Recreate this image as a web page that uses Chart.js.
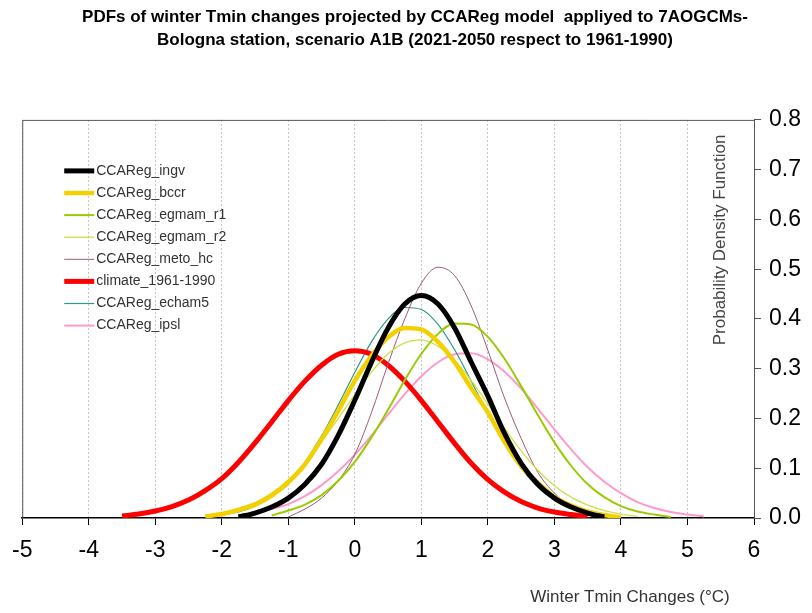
<!DOCTYPE html>
<html>
<head>
<meta charset="utf-8">
<script src="https://cdn.jsdelivr.net/npm/chart.js@4.4.1/dist/chart.umd.min.js"></script>
<style>
  html, body { margin: 0; padding: 0; background: #fff; }
  #wrap { width: 812px; height: 613px; }
</style>
</head>
<body>
<div id="wrap"><canvas id="chart" width="812" height="613"></canvas></div>
<script>
// ===== DATA =====
// temperature change grid, step 0.25 °C
const temps = [-3.5, -3.25, -3.0, -2.75, -2.5, -2.25, -2.0, -1.75, -1.5, -1.25,
  -1.0, -0.75, -0.5, -0.25, 0, 0.25, 0.5, 0.75, 1.0, 1.25,
  1.5, 1.75, 2.0, 2.25, 2.5, 2.75, 3.0, 3.25, 3.5, 3.75,
  4.0, 4.25, 4.5, 4.75, 5.0, 5.25];

const ingv = [null, null, null, null, null, null, null, 0.002, 0.010, 0.022,
  0.040, 0.068, 0.108, 0.166, 0.237, 0.313, 0.382, 0.430, 0.447, 0.430,
  0.382, 0.313, 0.245, 0.170, 0.110, 0.068, 0.040, 0.022, 0.010, 0.002,
  null, null, null, null, null, null];

const bccr = [null, null, null, null, null, 0.003, 0.008, 0.016, 0.027, 0.045,
  0.072, 0.108, 0.158, 0.215, 0.276, 0.326, 0.363, 0.382, 0.379, 0.354,
  0.313, 0.261, 0.212, 0.153, 0.104, 0.071, 0.042, 0.025, 0.013, 0.006,
  0.001, null, null, null, null, null];

const egmamR1 = [null, null, null, null, null, null, null, null, null, 0.005,
  0.015, 0.027, 0.046, 0.075, 0.113, 0.162, 0.218, 0.277, 0.330, 0.370,
  0.391, 0.389, 0.364, 0.320, 0.265, 0.207, 0.152, 0.105, 0.068, 0.042,
  0.024, 0.013, 0.007, 0.002, null, null];

const egmamR2 = [null, null, null, null, null, null, 0.003, 0.019, 0.031, 0.050,
  0.077, 0.111, 0.153, 0.200, 0.248, 0.293, 0.330, 0.352, 0.358, 0.345,
  0.317, 0.276, 0.229, 0.180, 0.135, 0.096, 0.065, 0.042, 0.026, 0.015,
  0.008, 0.003, null, null, null, null];

const metoHc = [null, null, null, null, null, null, null, null, null, null,
  0.002, 0.018, 0.040, 0.075, 0.128, 0.212, 0.310, 0.400, 0.472, 0.504,
  0.487, 0.426, 0.337, 0.241, 0.160, 0.092, 0.050, 0.023, 0.010, 0.003,
  null, null, null, null, null, null];

const climate = [0.004, 0.008, 0.014, 0.023, 0.036, 0.055, 0.079, 0.112, 0.151, 0.193,
  0.236, 0.275, 0.307, 0.329, 0.336, 0.329, 0.307, 0.275, 0.236, 0.193,
  0.150, 0.110, 0.077, 0.052, 0.033, 0.020, 0.012, 0.007, 0.003, null,
  null, null, null, null, null, null];

const echam5 = [null, null, null, null, null, null, 0.006, 0.012, 0.024, 0.043,
  0.068, 0.112, 0.165, 0.227, 0.293, 0.354, 0.400, 0.423, 0.419, 0.389,
  0.338, 0.275, 0.209, 0.149, 0.100, 0.062, 0.036, 0.020, 0.010, 0.003,
  null, null, null, null, null, null];

const ipsl = [null, null, null, null, null, null, null, 0.006, 0.010, 0.018,
  0.028, 0.044, 0.066, 0.094, 0.127, 0.166, 0.208, 0.249, 0.285, 0.313,
  0.329, 0.331, 0.319, 0.294, 0.260, 0.220, 0.178, 0.138, 0.102, 0.073,
  0.050, 0.032, 0.020, 0.012, 0.007, 0.003];

const xTicks = [-5, -4, -3, -2, -1, 0, 1, 2, 3, 4, 5, 6];
const yTicks = [0.0, 0.1, 0.2, 0.3, 0.4, 0.5, 0.6, 0.7, 0.8];

// ===== SERIES STYLE =====
const series = [
  { label: "CCAReg_ingv", data: ingv, color: "#000000", width: 5 },
  { label: "CCAReg_bccr", data: bccr, color: "#f5d000", width: 4.5 },
  { label: "CCAReg_egmam_r1", data: egmamR1, color: "#99cc00", width: 2 },
  { label: "CCAReg_egmam_r2", data: egmamR2, color: "#cce04a", width: 1.3 },
  { label: "CCAReg_meto_hc", data: metoHc, color: "#9a5a7a", width: 1 },
  { label: "climate_1961-1990", data: climate, color: "#ff0000", width: 5 },
  { label: "CCAReg_echam5", data: echam5, color: "#2a9a8a", width: 1.2 },
  { label: "CCAReg_ipsl", data: ipsl, color: "#ff99cc", width: 2 }
];

const FONT = "'Liberation Sans', Arial, sans-serif";

// legend + frame + axis titles drawn inside the plot
const extras = {
  id: "extras",
  beforeDatasetsDraw(chart) {
    const { ctx, chartArea: a } = chart;
    ctx.save();
    ctx.strokeStyle = "#555";
    ctx.lineWidth = 1;
    ctx.beginPath();
    ctx.moveTo(a.left + 0.5, a.bottom);
    ctx.lineTo(a.left + 0.5, a.top + 0.5);
    ctx.lineTo(a.right, a.top + 0.5);
    ctx.stroke();
    ctx.restore();
  },
  afterDatasetsDraw(chart) {
    const { ctx, chartArea: a } = chart;
    ctx.save();
    // legend
    ctx.font = "14px " + FONT;
    ctx.textBaseline = "middle";
    ctx.textAlign = "left";
    series.forEach((s, i) => {
      const y = a.top + 51 + i * 22.1;
      ctx.strokeStyle = s.color;
      ctx.lineWidth = s.width;
      ctx.beginPath();
      ctx.moveTo(a.left + 42, y);
      ctx.lineTo(a.left + 72, y);
      ctx.stroke();
      ctx.fillStyle = "#333";
      ctx.fillText(s.label, a.left + 74, y);
    });
    // y title (inside the plot)
    ctx.font = "17px " + FONT;
    ctx.fillStyle = "#444";
    ctx.textAlign = "center";
    ctx.translate(a.right - 34, a.top + 120);
    ctx.rotate(-Math.PI / 2);
    ctx.fillText("Probability Density Function", 0, 0);
    ctx.restore();

    // x title
    ctx.save();
    ctx.font = "17px " + FONT;
    ctx.fillStyle = "#333";
    ctx.textAlign = "center";
    ctx.textBaseline = "middle";
    ctx.fillText("Winter Tmin Changes (°C)", 630, 597);
    ctx.restore();
  }
};

const ctx = document.getElementById("chart").getContext("2d");

const chart = new Chart(ctx, {
  type: "line",
  data: {
    datasets: series.map(s => ({
      label: s.label,
      data: temps.map((t, i) => ({ x: t, y: s.data[i] })),
      borderColor: s.color,
      backgroundColor: s.color,
      borderWidth: s.width,
      pointRadius: 0,
      fill: false,
      cubicInterpolationMode: "monotone",
      spanGaps: false
    }))
  },
  options: {
    responsive: false,
    animation: false,
    layout: { padding: { left: 18, right: 0, top: 0, bottom: 0 } },
    plugins: {
      legend: { display: false },
      tooltip: { enabled: false },
      title: {
        display: true,
        text: [
          "PDFs of winter Tmin changes projected by CCAReg model  appliyed to 7AOGCMs-",
          "Bologna station, scenario A1B (2021-2050 respect to 1961-1990)"
        ],
        color: "#000",
        font: { family: "'Liberation Sans Narrow', " + FONT, size: 17, weight: "bold", lineHeight: 1.35 },
        padding: { top: 6, bottom: 68 }
      }
    },
    scales: {
      x: {
        type: "linear",
        min: -5,
        max: 6,
        afterFit: s => { s.height = 95; },
        afterBuildTicks: s => { s.ticks = xTicks.map(v => ({ value: v })); },
        ticks: {
          color: "#000",
          font: { family: FONT, size: 23 },
          padding: 12,
          maxRotation: 0
        },
        grid: {
          color: "#c4c4c4",
          lineWidth: 1,
          tickColor: "#000",
          tickLength: 7
        },
        border: { color: "#000", width: 1.5, dash: [2, 2] }
      },
      y: {
        position: "right",
        min: 0,
        max: 0.8,
        afterFit: s => { s.width = 58; },
        afterBuildTicks: s => { s.ticks = yTicks.map(v => ({ value: v })); },
        ticks: {
          color: "#000",
          font: { family: FONT, size: 23 },
          padding: 8,
          callback: v => v.toFixed(1)
        },
        grid: {
          drawOnChartArea: false,
          tickColor: "#555",
          tickLength: 7
        },
        border: { color: "#555", width: 1 }
      }
    }
  },
  plugins: [extras]
});
</script>
</body>
</html>
